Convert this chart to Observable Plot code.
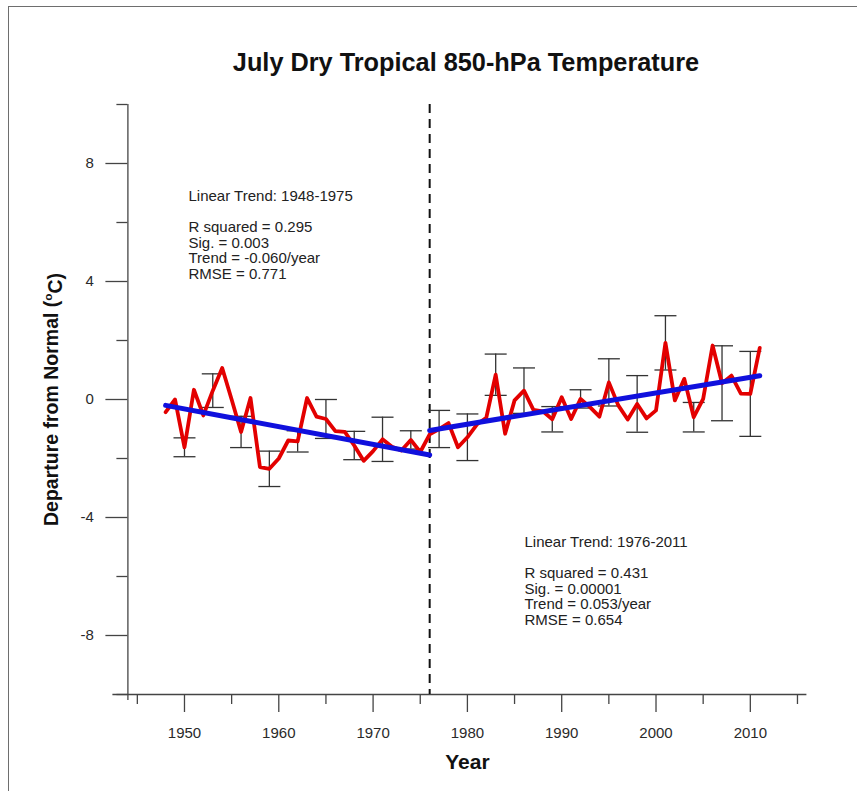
<!DOCTYPE html>
<html>
<head>
<meta charset="utf-8">
<script src="https://cdn.jsdelivr.net/npm/d3@7"></script>
<script src="https://cdn.jsdelivr.net/npm/@observablehq/plot@0.6"></script>
<style>
  html, body { margin: 0; padding: 0; background: #fff; }
  #page { position: relative; width: 857px; height: 791px; overflow: hidden; font-family: "Liberation Sans", Arial, sans-serif; }
  #edge { position: absolute; left: 8px; top: 6px; width: 900px; height: 900px; border-left: 1.5px solid #6e6e6e; border-top: 1.5px solid #6e6e6e; }
  #title { position: absolute; left: 75px; right: 0; top: 48px; text-align: center; font-weight: bold; font-size: 25.3px; color: #111; line-height: 28px; }
  #chart { position: absolute; left: 0; top: 90px; }
</style>
</head>
<body>
<div id="page">
  <div id="edge"></div>
  <div id="title">July Dry Tropical 850-hPa Temperature</div>
  <div id="chart"></div>
</div>
<script>
// July departures from normal (°C), one value per year starting in firstYear
const firstYear = 1948;
const departures = [
  -0.43, 0.00, -1.62, 0.33, -0.54, 0.30, 1.07, 0.00, -1.10, 0.05,
  -2.29, -2.35, -2.00, -1.39, -1.42, 0.05, -0.58, -0.66, -1.07, -1.10,
  -1.56, -2.08, -1.75, -1.35, -1.60, -1.73, -1.37, -1.78, -1.18, -1.00,
  -0.80, -1.62, -1.28, -0.85, -0.62, 0.84, -1.16, -0.03, 0.30, -0.35,
  -0.40, -0.67, 0.08, -0.66, 0.02, -0.26, -0.58, 0.58, -0.20, -0.68,
  -0.15, -0.64, -0.37, 1.92, -0.03, 0.70, -0.60, 0.02, 1.83, 0.55,
  0.81, 0.20, 0.19, 1.75
];

// Uncertainty bars: years and half-widths (°C)
const errorYears = [1950, 1953, 1956, 1959, 1962, 1965, 1968, 1971, 1974, 1977, 1980,
                    1983, 1986, 1989, 1992, 1995, 1998, 2001, 2004, 2007, 2010];
const errorHalfWidths = [0.32, 0.57, 0.53, 0.60, 0.36, 0.66, 0.48, 0.75, 0.31, 0.63, 0.79,
                         0.70, 0.77, 0.43, 0.31, 0.80, 0.96, 0.92, 0.50, 1.27, 1.44];

// Two linear-trend periods, split at the break year
const breakYear = 1976;
const trendPeriods = ["1948-1975", "1976-2011"];
const trendStartYears = [1948, 1976];
const trendEndYears = [1976, 2011];
const trendStartValues = [-0.20, -1.05];
const trendSlopes = [-0.060, 0.053];
const rSquared = ["0.295", "0.431"];
const significance = ["0.003", "0.00001"];
const rmse = ["0.771", "0.654"];

// Axis ticks
const xDomain = [1944, 2016];
const yDomain = [-10, 10];
const xTickLabels = [1950, 1960, 1970, 1980, 1990, 2000, 2010];
const xMinorTicks = [1945, 1955, 1965, 1975, 1985, 1995, 2005, 2015];
const yTickLabels = [-8, -4, 0, 4, 8];
const yMinorTicks = [-10, -6, -2, 2, 6, 10];

const yTitle = "Departure from Normal (oC)";
const xTitle = "Year";

// ---- tables built from the arrays above ----
const series = departures.map((value, i) => ({year: firstYear + i, value}));
const valueByYear = new Map(series.map(d => [d.year, d.value]));
const errorRows = errorYears.map((year, i) => ({year, value: valueByYear.get(year), err: errorHalfWidths[i]}));
const capRows = errorRows.flatMap(d => [{year: d.year, y: d.value - d.err}, {year: d.year, y: d.value + d.err}]);
const trendRows = trendPeriods.flatMap((period, i) => [
  {period, year: trendStartYears[i], value: trendStartValues[i]},
  {period, year: trendEndYears[i], value: trendStartValues[i] + trendSlopes[i] * (trendEndYears[i] - trendStartYears[i])}
]);
const statsText = trendPeriods.map((period, i) =>
  `Linear Trend: ${period}\n\nR squared = ${rSquared[i]}\nSig. = ${significance[i]}\nTrend = ${trendSlopes[i].toFixed(3)}/year\nRMSE = ${rmse[i]}`);

// Horizontal cap drawn as a custom dot symbol; half-width equals r
const capSymbol = {
  draw(context, size) {
    const r = Math.sqrt(size / Math.PI);
    context.moveTo(-r, 0);
    context.lineTo(r, 0);
  }
};

const axisColor = "#444";
const labelColor = "#2a2a2a";
const font = "'Liberation Sans', Arial, sans-serif";

const chart = Plot.plot({
  width: 857,
  height: 701,
  marginLeft: 127.4,
  marginRight: 50.6,
  marginTop: 14,
  marginBottom: 97,
  x: {domain: xDomain},
  y: {domain: yDomain},
  style: {fontFamily: font, background: "transparent", overflow: "visible"},
  marks: [
    // axes
    Plot.axisY(yMinorTicks, {tickSize: 11, tickFormat: () => "", stroke: axisColor, strokeWidth: 1.3, label: null}),
    Plot.axisY(yTickLabels, {tickSize: 22, tickPadding: 12, tickFormat: d => String(d), fontSize: 15,
      stroke: axisColor, fill: labelColor, strokeWidth: 1.3, label: null}),
    Plot.axisX(xMinorTicks, {tickSize: 10, tickFormat: () => "", stroke: axisColor, strokeWidth: 1.3, label: null}),
    Plot.axisX(xTickLabels, {tickSize: 18, tickPadding: 14.6, tickFormat: d => String(d), fontSize: 15,
      stroke: axisColor, fill: labelColor, strokeWidth: 1.3, label: null}),
    Plot.ruleX([xDomain[0]], {stroke: axisColor, strokeWidth: 1.3, insetBottom: -6}),
    Plot.ruleY([yDomain[0]], {stroke: axisColor, strokeWidth: 1.3, insetLeft: -15}),

    // period break
    Plot.ruleX([breakYear], {stroke: "#111", strokeWidth: 2, strokeDasharray: "9,6"}),

    // uncertainty bars
    Plot.ruleX(errorRows, {x: "year", y1: d => d.value - d.err, y2: d => d.value + d.err, stroke: "#333", strokeWidth: 1.3}),
    Plot.dot(capRows, {x: "year", y: "y", symbol: capSymbol, r: 11, fill: "none", stroke: "#333", strokeWidth: 1.3}),

    // observed departures
    Plot.line(series, {x: "year", y: "value", stroke: "#e30000", strokeWidth: 3.8, strokeLinejoin: "round"}),

    // linear trends
    Plot.line(trendRows, {x: "year", y: "value", z: "period", stroke: "#1010dd", strokeWidth: 5}),

    // trend statistics
    Plot.text([statsText[0]], {frameAnchor: "top-left", dx: 60.6, dy: 86, textAnchor: "start", lineAnchor: "top",
      fontSize: 15, lineHeight: 1.03, fill: "#222"}),
    Plot.text([statsText[1]], {frameAnchor: "top-left", dx: 396.6, dy: 432, textAnchor: "start", lineAnchor: "top",
      fontSize: 15, lineHeight: 1.03, fill: "#222"}),

    // axis titles
    Plot.text([yTitle], {frameAnchor: "left", dx: -76, rotate: -90, fontSize: 19.5, fontWeight: "bold",
      fill: "#111", textAnchor: "middle", className: "ytitle"}),
    Plot.text([xTitle], {frameAnchor: "bottom", dy: 68, fontSize: 21, fontWeight: "bold",
      fill: "#111", textAnchor: "middle", lineAnchor: "middle"})
  ]
});

// Raise the "o" of the unit to a superscript
const yText = d3.select(chart).select(".ytitle text");
yText.text(null);
yText.append("tspan").text("Departure from Normal (");
yText.append("tspan").text("o").attr("font-size", "0.6em").attr("dy", "-0.5em");
yText.append("tspan").text("C)").attr("dy", "0.5em");

document.getElementById("chart").appendChild(chart);
</script>
</body>
</html>
